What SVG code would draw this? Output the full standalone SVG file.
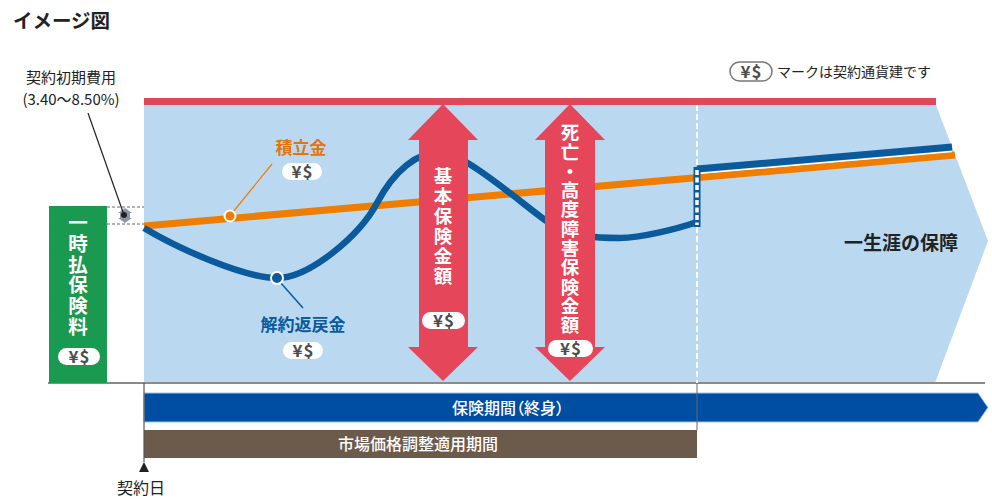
<svg xmlns="http://www.w3.org/2000/svg" width="992" height="500" viewBox="0 0 992 500">
<style>
text{font-family:"Noto Sans CJK JP","Noto Sans",sans-serif}
.b{font-weight:bold}
.vt{writing-mode:vertical-rl;font-weight:bold;fill:#fff}
.pill{fill:#fff}
.pt{font-size:17px;font-weight:bold;fill:#4d4d4d;text-anchor:middle;letter-spacing:1px}
.dk{fill:#222}
.bar{font-size:16px;font-weight:500;fill:#fff;text-anchor:middle;font-feature-settings:"palt"}
</style>
<rect width="992" height="500" fill="#fff"/>
<g id="title"><text x="13" y="28" class="b dk" font-size="19.5">イメージ図</text></g>

<g id="legend">
<rect x="730" y="62" width="42" height="19" rx="9.5" fill="#fff" stroke="#777" stroke-width="1.5"/>
<text x="751.5" y="77.5" class="pt">¥$</text>
<text x="777" y="77" font-size="14" class="dk">マークは契約通貨建です</text>
</g>

<g id="area">
<rect x="144" y="98" width="792" height="7" fill="#e0475b"/>
<polygon points="144,105 936,105 988,241 935,383 144,383" fill="#bad9f1"/>
<line x1="48" y1="383" x2="985" y2="383" stroke="#8a8a8a" stroke-width="2"/>
<text x="901" y="250" font-size="19" class="b dk" text-anchor="middle">一生涯の保障</text>
</g>

<g id="premium">
<rect x="49" y="206" width="58" height="177" fill="#1a9a50"/>
<text x="78" y="213" font-size="19.5" class="vt" letter-spacing="1.2">一時払保険料</text>
<rect x="58" y="348" width="42" height="17" rx="8.5" class="pill"/>
<text x="79.5" y="362.5" class="pt">¥$</text>
</g>

<g id="initial-cost">
<text x="71" y="83" font-size="15" class="dk" text-anchor="middle">契約初期費用</text>
<text x="71" y="105" font-size="15" class="dk" text-anchor="middle">(3.40～8.50%)</text>
<line x1="107" y1="207" x2="144" y2="207" stroke="#666" stroke-width="1" stroke-dasharray="3,2"/>
<line x1="107" y1="224" x2="144" y2="224" stroke="#666" stroke-width="1" stroke-dasharray="3,2"/>
<polygon points="118,213 125,208 132,213" fill="#8d96a8"/>
<polygon points="118,218 125,223 132,218" fill="#8d96a8"/>
<rect x="120" y="212" width="10" height="7" fill="#8d96a8"/>
<line x1="88" y1="113" x2="124" y2="215" stroke="#222" stroke-width="1.2"/>
<circle cx="124" cy="215" r="3" fill="#222"/>
</g>

<g id="connectors">
<line x1="144" y1="226" x2="955" y2="155" stroke="#ef7d00" stroke-width="7"/>
<path d="M144,228 C177,248 244,278 277,278 C310,278 360,235 377,203 C394,171 417,152 440,152 C463,152 520,202 545,220 C570,238 600,238 620,238 C640,238 677,229 697,222" fill="none" stroke="#0a5a9c" stroke-width="6.5"/>
<line x1="697" y1="173.5" x2="952" y2="151.5" stroke="#fff" stroke-width="1.5"/>
<line x1="697" y1="169" x2="952" y2="147" stroke="#0a5a9c" stroke-width="7"/>
<rect x="693.5" y="167" width="7" height="60" fill="#0a5a9c"/>
<line x1="697" y1="170" x2="697" y2="225" stroke="#fff" stroke-width="3.5" stroke-dasharray="5,2.5"/>
<line x1="697" y1="105" x2="697" y2="167" stroke="#fff" stroke-width="2" stroke-dasharray="6,3"/>
<line x1="697" y1="227" x2="697" y2="383" stroke="#fff" stroke-width="2" stroke-dasharray="6,3"/>
<line x1="233" y1="212" x2="272" y2="164" stroke="#ef7d00" stroke-width="1.2"/>
<line x1="280" y1="282" x2="303" y2="308" stroke="#0a5a9c" stroke-width="1.5"/>
<circle cx="230" cy="216" r="5.5" fill="#ef7d00" stroke="#fff" stroke-width="2"/>
<circle cx="277" cy="278" r="6" fill="#0a5a9c" stroke="#fff" stroke-width="2"/>
</g>

<g id="reserve">
<text x="301" y="154" font-size="17" class="b" fill="#e5740a" text-anchor="middle">積立金</text>
<rect x="282" y="163" width="40" height="17" rx="8.5" class="pill"/>
<text x="302.5" y="177.5" class="pt">¥$</text>
</g>

<g id="surrender">
<text x="303" y="331" font-size="17" class="b" fill="#0a5a9c" text-anchor="middle">解約返戻金</text>
<rect x="283" y="342" width="40" height="17" rx="8.5" class="pill"/>
<text x="303.5" y="356.5" class="pt">¥$</text>
</g>

<g id="basic-amount">
<polygon points="443,104 478,140 468,140 468,347 478,347 443,381 408,347 419,347 419,140 408,140" fill="#e6465a"/>
<text x="443" y="167" font-size="18.5" class="vt" letter-spacing="1.5">基本保険金額</text>
<rect x="422" y="312" width="43" height="17" rx="8.5" class="pill"/>
<text x="444" y="326.5" class="pt">¥$</text>
</g>

<g id="death-amount">
<polygon points="570,104 605,140 595,140 595,347 605,347 570,381 535,347 545,347 545,140 535,140" fill="#e6465a"/>
<text x="570" y="123" font-size="18.5" class="vt" letter-spacing="0.8">死亡・高度障害保険金額</text>
<rect x="548" y="340" width="45" height="17" rx="8.5" class="pill"/>
<text x="571" y="354.5" class="pt">¥$</text>
</g>

<g id="period">
<polygon points="144,393 978,393 988,407.5 978,422 144,422" fill="#004ea2" stroke="#9cc3ea" stroke-width="1"/>
<text x="508" y="413.5" class="bar">保険期間（終身）</text>
</g>

<g id="mva">
<rect x="144" y="430" width="553" height="28" fill="#6c5a4b"/>
<text x="418" y="449.5" class="bar">市場価格調整適用期間</text>
<line x1="697" y1="383" x2="697" y2="430" stroke="#666" stroke-width="1"/>
</g>

<g id="contract-date">
<line x1="144" y1="383" x2="144" y2="462" stroke="#555" stroke-width="1.2"/>
<polygon points="144,462 149,472 139,472" fill="#222"/>
<text x="141" y="494" font-size="16" class="dk" text-anchor="middle">契約日</text>
</g>
</svg>
